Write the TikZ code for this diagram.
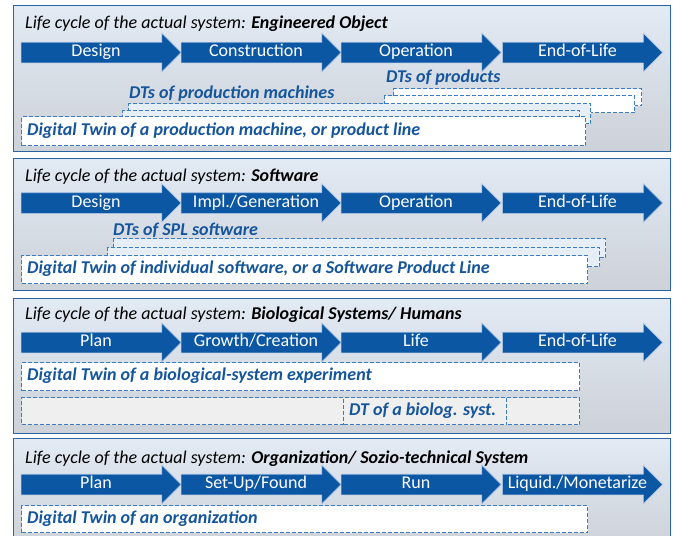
\documentclass[tikz,border=0pt]{standalone}
\usepackage{fontspec}
\setmainfont{Carlito}
\usepackage{tikz}
\usetikzlibrary{shapes.arrows}

\definecolor{panelline}{HTML}{2B64A3}
\definecolor{paneltop}{HTML}{E2EAF4}
\definecolor{panelbot}{HTML}{CDD1D8}
\definecolor{phaseblue}{HTML}{0B57A4}
\definecolor{phaseedge}{HTML}{A9C4E4}
\definecolor{dtblue}{HTML}{15559C}
\definecolor{dtdash}{HTML}{3B7CC4}
\definecolor{dtlight}{HTML}{E6EEF8}
\definecolor{biogray}{HTML}{EFEFEF}

\tikzset{
	panel/.style={draw=panelline, line width=1.2pt, top color=paneltop, bottom color=panelbot,
		anchor=north west, inner sep=0pt},
	phase/.style={single arrow, single arrow head extend=9pt, minimum height=160pt,
		fill=phaseblue, draw=phaseedge, line width=0.6pt, text=white, font=\fontsize{18}{18}\selectfont,
		text height=11pt, text depth=3pt, inner ysep=3pt, inner xsep=2pt},
	cycletitle/.style={anchor=west, inner sep=0pt, font=\fontsize{18}{18}\selectfont\itshape},
	dtbox/.style={draw=dtdash, dash pattern=on 4pt off 2pt, line width=1.1pt, fill=white,
		anchor=north west, inner sep=0pt},
	dtname/.style={anchor=west, inner sep=0pt, text=dtblue, font=\fontsize{18}{18}\selectfont\bfseries\itshape}
}

\begin{document}
\begin{tikzpicture}[x=1pt, y=-1pt]
	\useasboundingbox (0,0) rectangle (673,536);

	\node[panel, minimum width=657pt, minimum height=146pt] (engpanel) at (13,5) {};
	\node[panel, minimum width=657pt, minimum height=132pt] (swpanel) at (13,158) {};
	\node[panel, minimum width=657pt, minimum height=135pt] (biopanel) at (13,298) {};
	\node[panel, minimum width=657pt, minimum height=110pt] (orgpanel) at (13,438) {};

	\node[cycletitle] (engtitle) at (25,24) {Life cycle of the actual system: \textbf{Engineered Object}};
	\node[phase] (eng1) at (96,52.5) {Design};
	\node[phase] (eng2) at (256,52.5) {Construction};
	\node[phase] (eng3) at (416,52.5) {Operation};
	\node[phase] (eng4) at (577.5,52.5) {End-of-Life};

	\node[dtname] (prodlabel) at (386,78) {DTs of products};
	\node[dtbox, minimum width=248pt, minimum height=17pt] (prodback) at (393,88) {};
	\node[dtbox, minimum width=250pt, minimum height=17pt] (prodfront) at (384,95) {};
	\node[dtname] (machlabel) at (129,94) {DTs of production machines};
	\node[dtbox, fill=dtlight, minimum width=462pt, minimum height=20pt] (machback) at (128,103) {};
	\node[dtbox, fill=dtlight, minimum width=457pt, minimum height=12pt] (machfront) at (122,110) {};
	\node[dtbox, minimum width=564pt, minimum height=29pt] (engdt) at (21,116) {};
	\node[dtname] (engdtlabel) at (27,131) {Digital Twin of a production machine, or product line};

	\node[cycletitle] (swtitle) at (25,177) {Life cycle of the actual system: \textbf{Software}};
	\node[phase] (sw1) at (96,203) {Design};
	\node[phase] (sw2) at (256,203) {Impl./Generation};
	\node[phase] (sw3) at (416,203) {Operation};
	\node[phase] (sw4) at (577.5,203) {End-of-Life};

	\node[dtname] (spllabel) at (113,230) {DTs of SPL software};
	\node[dtbox, fill=dtlight, minimum width=492pt, minimum height=19pt] (splback) at (113,238) {};
	\node[dtbox, fill=dtlight, minimum width=492pt, minimum height=19pt] (splfront) at (107,247) {};
	\node[dtbox, minimum width=566pt, minimum height=28pt] (swdt) at (21,255) {};
	\node[dtname] (swdtlabel) at (27,269) {Digital Twin of individual software, or a Software Product Line};

	\node[cycletitle] (biotitle) at (25,315) {Life cycle of the actual system: \textbf{Biological Systems/ Humans}};
	\node[phase] (bio1) at (96,342.5) {Plan};
	\node[phase] (bio2) at (256,342.5) {Growth/Creation};
	\node[phase] (bio3) at (416,342.5) {Life};
	\node[phase] (bio4) at (577.5,342.5) {End-of-Life};

	\node[dtbox, minimum width=558pt, minimum height=28pt] (biodt) at (21,362) {};
	\node[dtname] (biodtlabel) at (27,376) {Digital Twin of a biological-system experiment};
	\node[dtbox, fill=biogray, minimum width=558pt, minimum height=27pt] (biorow) at (21,397) {};
	\node[dtbox, fill=biogray, minimum width=163pt, minimum height=27pt] (biosyst) at (343,397) {};
	\node[dtname] (biosystlabel) at (349,410.5) {DT of a biolog. syst.};

	\node[cycletitle] (orgtitle) at (25,459) {Life cycle of the actual system: \textbf{Organization/ Sozio-technical System}};
	\node[phase] (org1) at (96,484.5) {Plan};
	\node[phase] (org2) at (256,484.5) {Set-Up/Found};
	\node[phase] (org3) at (416,484.5) {Run};
	\node[phase] (org4) at (577.5,484.5) {Liquid./Monetarize};

	\node[dtbox, minimum width=566pt, minimum height=27pt] (orgdt) at (21,505) {};
	\node[dtname] (orgdtlabel) at (27,519) {Digital Twin of an organization};
\end{tikzpicture}
\end{document}
